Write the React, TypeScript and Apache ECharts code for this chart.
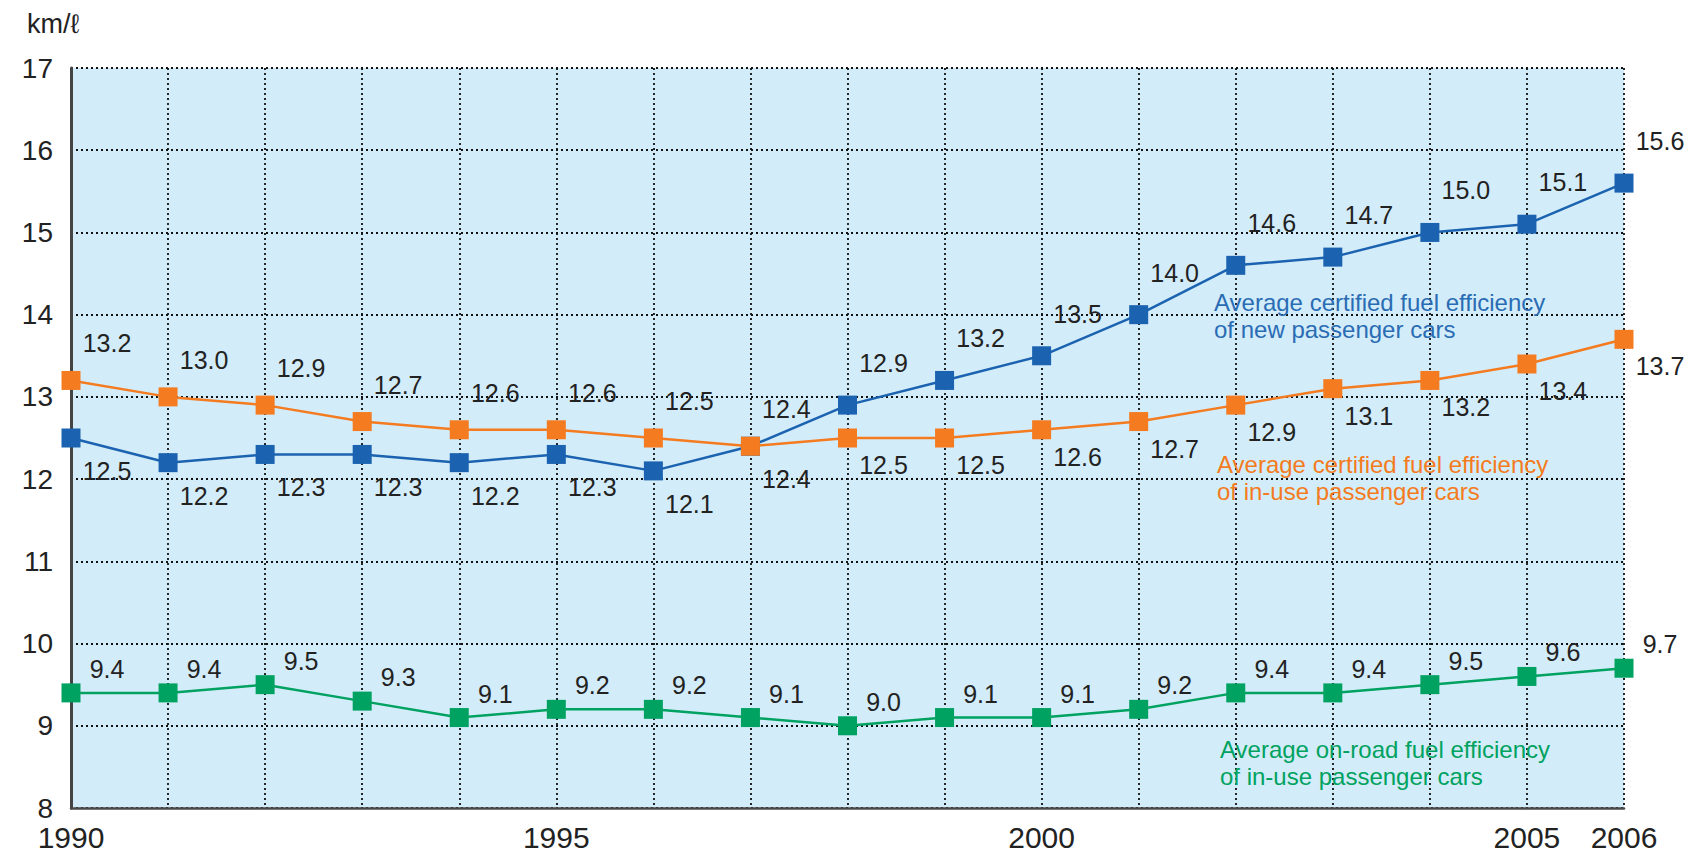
import React, { useEffect, useRef } from "react";
import * as echarts from "echarts";

const years = [1990, 1991, 1992, 1993, 1994, 1995, 1996, 1997, 1998, 1999, 2000, 2001, 2002, 2003, 2004, 2005, 2006];
const newCars = [12.5, 12.2, 12.3, 12.3, 12.2, 12.3, 12.1, 12.4, 12.9, 13.2, 13.5, 14.0, 14.6, 14.7, 15.0, 15.1, 15.6];
const inUseCertified = [13.2, 13.0, 12.9, 12.7, 12.6, 12.6, 12.5, 12.4, 12.5, 12.5, 12.6, 12.7, 12.9, 13.1, 13.2, 13.4, 13.7];
const onRoad = [9.4, 9.4, 9.5, 9.3, 9.1, 9.2, 9.2, 9.1, 9.0, 9.1, 9.1, 9.2, 9.4, 9.4, 9.5, 9.6, 9.7];
const xTickLabels = [1990, 1995, 2000, 2005, 2006];
const unitLabel = "km/ℓ";
const noteNew = ["Average certified fuel efficiency", "of new passenger cars"];
const noteInUse = ["Average certified fuel efficiency", "of in-use passenger cars"];
const noteOnRoad = ["Average on-road fuel efficiency", "of in-use passenger cars"];

const FONT = "'Liberation Sans', Arial, Helvetica, sans-serif";
const BLUE = "#1b63b0";
const ORANGE = "#f47b20";
const GREEN = "#00a261";

function makeSeries(name: string, values: number[], color: string, dyFn: (i: number) => number, z: number) {
  return {
    name,
    type: "line",
    z,
    data: values.map((v, i) => ({
      value: [years[i], v],
      label: { offset: [36, dyFn(i)] },
    })),
    symbol: "rect",
    symbolSize: 19,
    lineStyle: { color, width: 2.5 },
    itemStyle: { color },
    label: {
      show: true,
      position: "inside",
      color: "#222",
      fontFamily: FONT,
      fontSize: 25,
      formatter: (p: any) => Number(p.value[1]).toFixed(1),
    },
  };
}

export default function App() {
  const ref = useRef<HTMLDivElement>(null);
  useEffect(() => {
    if (!ref.current) return;
    const chart = echarts.init(ref.current, undefined, { renderer: "svg" });
    const dotted = { color: "#111", width: 1.8, type: [2, 3] as any };
    const noteStyle = (lines: string[], fill: string) => ({
      text: lines.join("\n"),
      fill,
      font: `24px ${FONT}`,
      lineHeight: 27,
    });
    chart.setOption({
      animation: false,
      backgroundColor: "#ffffff",
      grid: {
        left: 71,
        right: 73,
        top: 68,
        bottom: 50,
        show: true,
        backgroundColor: "#d3ecf9",
        borderWidth: 0,
      },
      xAxis: {
        type: "value",
        min: 1990,
        max: 2006,
        interval: 1,
        axisLine: { show: true, lineStyle: { color: "#4a4a4a", width: 2.5 } },
        axisTick: { show: false },
        splitLine: { show: true, lineStyle: dotted },
        axisLabel: {
          margin: 14,
          color: "#222",
          fontFamily: FONT,
          fontSize: 30,
          showMinLabel: true,
          showMaxLabel: true,
          formatter: (v: number) => (xTickLabels.includes(v) ? String(v) : ""),
        },
      },
      yAxis: {
        type: "value",
        min: 8,
        max: 17,
        interval: 1,
        axisLine: { show: true, lineStyle: { color: "#444", width: 3 } },
        axisTick: { show: false },
        splitLine: { show: true, lineStyle: dotted },
        axisLabel: {
          margin: 18,
          color: "#222",
          fontFamily: FONT,
          fontSize: 28,
        },
      },
      series: [
        makeSeries("new", newCars, BLUE, (i) => (i <= 7 ? 33 : -42), 3),
        makeSeries("inUse", inUseCertified, ORANGE, (i) => (i <= 7 ? -37 : 27), 4),
        makeSeries("onRoad", onRoad, GREEN, () => -24, 3),
      ],
      graphic: [
        {
          type: "text",
          left: 27,
          top: 10,
          style: { text: unitLabel, fill: "#222", font: `27px ${FONT}` },
        },
        { type: "text", left: 1214, top: 289, z: 10, style: noteStyle(noteNew, "#2a6cb4") },
        { type: "text", left: 1217, top: 451, z: 10, style: noteStyle(noteInUse, ORANGE) },
        { type: "text", left: 1220, top: 736, z: 10, style: noteStyle(noteOnRoad, "#00a25f") },
      ],
    });
    return () => chart.dispose();
  }, []);
  return (
    <div
      ref={ref}
      style={{ position: "fixed", left: 0, top: 0, width: 1697, height: 858 }}
    />
  );
}
